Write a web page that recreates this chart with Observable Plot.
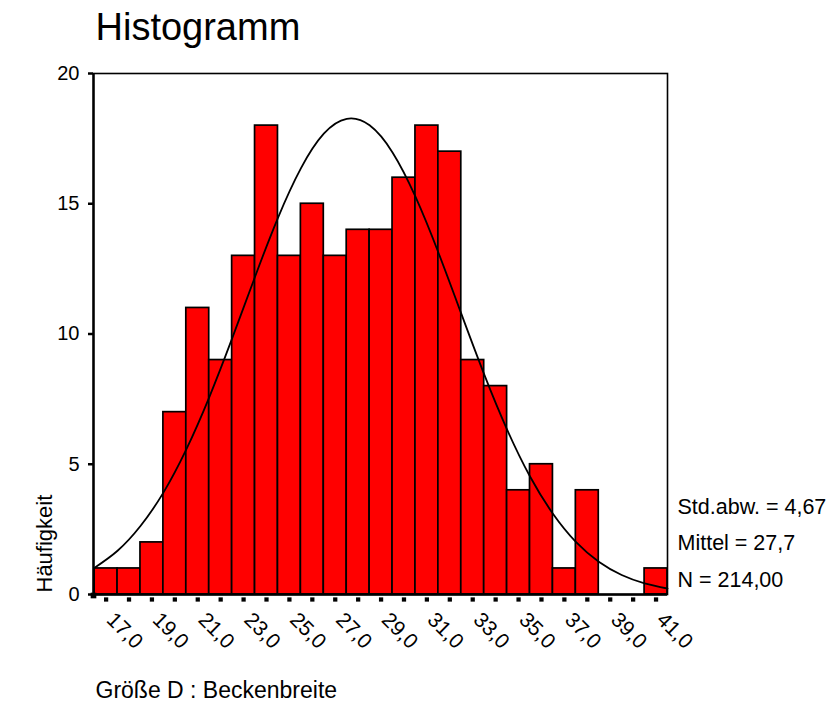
<!DOCTYPE html>
<html><head><meta charset="utf-8">
<script src="https://cdn.jsdelivr.net/npm/d3@7"></script>
<script src="https://cdn.jsdelivr.net/npm/@observablehq/plot@0.6"></script>
<style>
body{margin:0;background:#fff;}
#wrap{width:828px;height:709px;}
</style></head><body><div id="wrap"></div>
<script>
const titleText = "Histogramm";
const xTitle = "Größe D : Beckenbreite";
const yTitle = "Häufigkeit";
const binCenters = [17,18,19,20,21,22,23,24,25,26,27,28,29,30,31,32,33,34,35,36,37,38,39,40,41];
const counts =     [ 1, 1, 2, 7,11, 9,13,18,13,15,13,14,14,16,18,17, 9, 8, 4, 5, 1, 4, 0, 0, 1];
const curveX = [16.5,17.5,18.5,19.5,20.5,21.5,22.5,23.5,24.5,25.5,26.5,27.5,28.5,29.5,30.5,31.5,32.5,33.5,34.5,35.5,36.5,37.5,38.5,39.5,40.5,41.5];
const curveY = [1.03,1.68,2.63,3.91,5.57,7.57,9.83,12.2,14.46,16.36,17.69,18.26,18.01,16.97,15.27,13.13,10.78,8.45,6.33,4.53,3.1,2.02,1.26,0.75,0.43,0.23];
const labelTicks = [17,19,21,23,25,27,29,31,33,35,37,39,41];
const labelText = ["17,0","19,0","21,0","23,0","25,0","27,0","29,0","31,0","33,0","35,0","37,0","39,0","41,0"];
const yTicks = [0,5,10,15,20];
const yTickText = ["0","5","10","15","20"];
const stats = ["Std.abw. = 4,67","Mittel = 27,7","N = 214,00"];

const bars = binCenters.map((x,i)=>({x, n: counts[i]})).filter(d=>d.n>0);
const curve = curveX.map((x,i)=>({x, y: curveY[i]}));
const xLabels = labelTicks.map((x,i)=>({x, t: labelText[i]}));
const yLabels = yTicks.map((y,i)=>({y, t: yTickText[i]}));
const xMin = 16.45;
const font = "'Liberation Sans', Arial, sans-serif";

const chart = Plot.plot({
  width: 828, height: 709,
  marginLeft: 93, marginRight: 161, marginTop: 73, marginBottom: 115,
  x: {domain: [xMin, 41.5], axis: null},
  y: {domain: [0, 20]},
  style: {fontFamily: font, fontSize: "18px", background: "white", color: "black", overflow: "visible"},
  marks: [
    Plot.rectY(bars, {x1: d => d.x - 0.5, x2: d => d.x + 0.5, y: "n", fill: "#ff0000", stroke: "black", strokeWidth: 1.7}),
    Plot.line(curve, {x: "x", y: "y", curve: "natural", stroke: "black", strokeWidth: 1.8}),
    Plot.frame({stroke: "black", strokeWidth: 1.6}),
    Plot.ruleX([xMin], {stroke: "black", strokeWidth: 2.4}),
    Plot.ruleY([0], {stroke: "black", strokeWidth: 2.6}),
    Plot.axisY({ticks: yTicks, tickSize: 5, strokeWidth: 2.5, label: null, tickFormat: () => ""}),
    Plot.text(yLabels, {x: () => xMin, y: "y", text: "t", textAnchor: "end", dx: -14, fontSize: 20}),
    Plot.text(xLabels, {x: "x", y: () => 0, text: "t", rotate: 45, textAnchor: "start", lineAnchor: "top", dx: 10, dy: 16, fontSize: 21}),
    Plot.dot(binCenters, {x: d => d, y: () => 0, symbol: "square", r: 2.4, fill: "black", dy: 5}),
    Plot.dot([xMin], {x: d => d, y: () => 0, symbol: "square", r: 3.2, fill: "black", dy: 1}),
    Plot.text([titleText], {frameAnchor: "top-left", text: d => d, textAnchor: "start", lineAnchor: "bottom", dx: 2, dy: -34, fontSize: 38}),
    Plot.text([xTitle], {frameAnchor: "bottom-left", text: d => d, textAnchor: "start", lineAnchor: "bottom", dx: 2, dy: 103, fontSize: 23}),
    Plot.text([yTitle], {frameAnchor: "bottom-left", text: d => d, textAnchor: "start", rotate: -90, dx: -42, dy: -2, fontSize: 22}),
    Plot.text([stats[0]], {frameAnchor: "bottom-right", text: d => d, textAnchor: "start", lineAnchor: "bottom", dx: 10, dy: -81, fontSize: 21.5}),
    Plot.text([stats[1]], {frameAnchor: "bottom-right", text: d => d, textAnchor: "start", lineAnchor: "bottom", dx: 10, dy: -45, fontSize: 21.5}),
    Plot.text([stats[2]], {frameAnchor: "bottom-right", text: d => d, textAnchor: "start", lineAnchor: "bottom", dx: 10, dy: -8, fontSize: 21.5})
  ]
});
document.getElementById("wrap").appendChild(chart);
</script></body></html>
